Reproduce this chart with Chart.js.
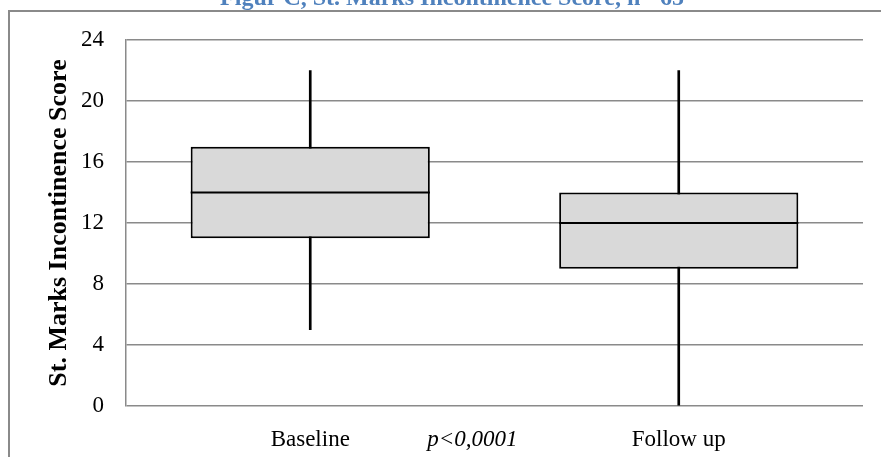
<!DOCTYPE html>
<html>
<head>
<meta charset="utf-8">
<script src="https://cdn.jsdelivr.net/npm/chart.js@4.4.1/dist/chart.umd.min.js"></script>
<style>
  html, body { margin: 0; padding: 0; background: #fff; }
  #box { width: 881px; height: 457px; }
</style>
</head>
<body>
<div id="box"><canvas id="chart" width="881" height="457"></canvas></div>
<script>
// Data
const categories = ['Baseline', 'Follow up'];
const whiskerLow = [5, 0];
const quart1 = [11, 9];
const medians = [14, 12];
const quart3 = [17, 14];
const whiskerHigh = [22, 22];
const yMin = 0, yMax = 24, yStep = 4;

const titleText = 'Figur C, St. Marks Incontinence Score, n= 65';
const yTitle = 'St. Marks Incontinence Score';
const pText = 'p<0,0001';

const serif = "'Liberation Serif', 'Times New Roman', serif";
const gridGray = '#8a8a8a';

// frame, cut-off title and p value note
const decorPlugin = {
    id: 'decor',
    beforeDraw(chart) {
        const ctx = chart.ctx;
        ctx.save();
        ctx.strokeStyle = gridGray;
        ctx.lineWidth = 2;
        ctx.beginPath();
        ctx.moveTo(9, 457);
        ctx.lineTo(9, 11);
        ctx.lineTo(881, 11);
        ctx.stroke();

        ctx.fillStyle = '#4f81bd';
        ctx.font = 'bold 24px ' + serif;
        ctx.textAlign = 'center';
        ctx.textBaseline = 'alphabetic';
        ctx.fillText(titleText, 452, 5);
        ctx.restore();
    },
    afterDraw(chart) {
        const ctx = chart.ctx;
        const x = chart.scales.x;
        ctx.save();
        ctx.fillStyle = '#000';
        ctx.font = 'italic 23px ' + serif;
        ctx.textAlign = 'center';
        ctx.textBaseline = 'alphabetic';
        ctx.fillText(pText, x.getPixelForValue(0.44), 446);
        ctx.restore();
    }
};

// median line across each box
const medianPlugin = {
    id: 'medianLine',
    afterDatasetsDraw(chart) {
        const ctx = chart.ctx;
        const y = chart.scales.y;
        const meta = chart.getDatasetMeta(1);
        ctx.save();
        ctx.strokeStyle = '#000';
        ctx.lineWidth = 2;
        meta.data.forEach((bar, i) => {
            const py = y.getPixelForValue(medians[i]);
            ctx.beginPath();
            ctx.moveTo(bar.x - bar.width / 2, py);
            ctx.lineTo(bar.x + bar.width / 2, py);
            ctx.stroke();
        });
        ctx.restore();
    }
};

new Chart(document.getElementById('chart'), {
    type: 'bar',
    data: {
        labels: categories,
        datasets: [
            {
                label: 'whisker',
                data: categories.map((c, i) => [whiskerLow[i], whiskerHigh[i]]),
                backgroundColor: '#000',
                barThickness: 2,
                grouped: false,
                order: 2
            },
            {
                label: 'box',
                data: categories.map((c, i) => [quart1[i], quart3[i]]),
                backgroundColor: '#d9d9d9',
                borderColor: '#000',
                borderWidth: 2,
                borderSkipped: false,
                categoryPercentage: 1,
                barPercentage: 0.649,
                grouped: false,
                order: 1
            }
        ]
    },
    options: {
        responsive: false,
        animation: false,
        layout: { padding: { left: 10, right: 18, top: 40, bottom: 0 } },
        plugins: {
            legend: { display: false },
            tooltip: { enabled: false },
            title: { display: false }
        },
        scales: {
            x: {
                grid: { display: false },
                border: { display: false },
                ticks: { color: '#000', font: { family: serif, size: 23 }, padding: 12 },
                afterFit: s => { s.height = 51; }
            },
            y: {
                min: yMin,
                max: yMax,
                ticks: { stepSize: yStep, color: '#000', font: { family: serif, size: 23 }, padding: 22 },
                grid: { color: gridGray, lineWidth: 1.5, drawTicks: false },
                border: { display: true, color: gridGray, width: 1.5 },
                title: {
                    display: true,
                    text: yTitle,
                    color: '#000',
                    font: { family: serif, size: 26, weight: 'bold' },
                    padding: { top: 34, bottom: 0 }
                },
                afterFit: s => { s.width = 116; }
            }
        }
    },
    plugins: [decorPlugin, medianPlugin]
});
</script>
</body>
</html>
